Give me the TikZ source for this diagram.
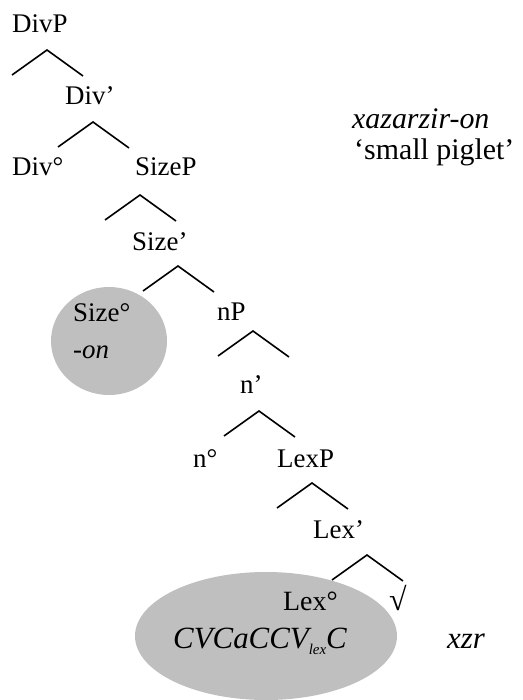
\documentclass[tikz,border=0pt]{standalone}
\usepackage{fontspec}
\setmainfont{Liberation Serif}
\usetikzlibrary{shapes.geometric,positioning}

\begin{document}
\begin{tikzpicture}[
        x=1bp, y=-1bp,
        every node/.style={font=\fontsize{27}{31}\selectfont, inner sep=0pt, anchor=base west},
        big/.style={font=\fontsize{31}{35}\selectfont},
        bigit/.style={font=\fontsize{31}{35}\selectfont\itshape},
        blob/.style={ellipse, fill=black!25, draw=none, anchor=center},
        branch/.style={line width=1.6bp}
    ]
        \useasboundingbox (0,0) rectangle (523,700);
        % grey blobs behind the heads
        \node[blob, minimum width=116bp, minimum height=108bp] (sizeblob) at (109,341) {};
        \node[blob, minimum width=262bp, minimum height=128bp] (lexblob) at (266,636) {};
        % labels
        \node (divp) at (12,33) {DivP};
        \node (divbar) at (65,105) {Div’};
        \node (divhead) at (12,175) {Div°};
        \node (sizep) at (135,175) {SizeP};
        \node (sizebar) at (132,250) {Size’};
        \node (sizehead) at (73,321) {Size°};
        \node (sizeaff) at (73,358) {\itshape -on};
        \node (np) at (217,320) {nP};
        \node (nbar) at (240,393) {n’};
        \node (nhead) at (193,467) {n°};
        \node (lexp) at (277,467) {LexP};
        \node (lexbar) at (313,538) {Lex’};
        \node[font=\fontsize{28}{32}\selectfont] (lexhead) at (283,610) {Lex°};
        \node[font=\fontsize{32}{36}\selectfont] (root) at (389,610) {√};
        \node[bigit] (template) at (173,648) {CVCaCCV\raisebox{-6bp}{\fontsize{15}{15}\selectfont lex}C};
        \node[bigit] (rootcons) at (447,648) {xzr};
        % gloss of the word
        \node[bigit, font=\fontsize{30}{34}\selectfont\itshape] (word) at (352,129) {xazarzir-on};
        \node[big, font=\fontsize{30}{34}\selectfont] (gloss) at (354,159) {‘small piglet’};
        % branching points
        \coordinate (b1) at (47,50);
        \coordinate (b2) at (93,122);
        \coordinate (b3) at (140,195);
        \coordinate (b4) at (178,266);
        \coordinate (b5) at (253,331);
        \coordinate (b6) at (259,411);
        \coordinate (b7) at (312,483);
        \coordinate (b8) at (367,555);
        \foreach \b in {b1,b2,b3,b4,b5,b6,b7,b8}
            \draw[branch] (\b) ++(-35,25) -- (\b) -- ++(36,26);
    \end{tikzpicture}
\end{document}
